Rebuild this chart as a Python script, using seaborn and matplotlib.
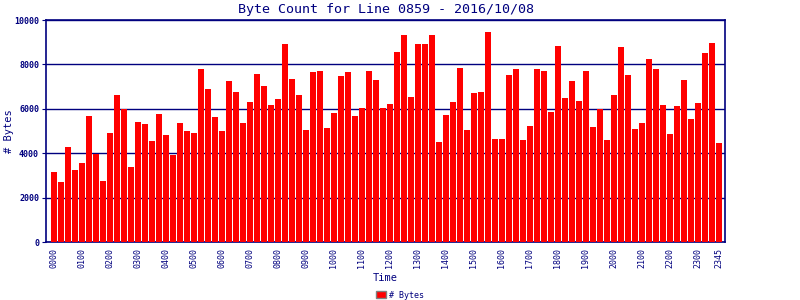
import matplotlib
matplotlib.use("Agg")
import matplotlib.pyplot as plt
import seaborn as sns
import pandas as pd
from matplotlib.patches import Patch

times = [f"{h:02d}{m:02d}" for h in range(24) for m in (0, 15, 30, 45)]
byte_counts = [
    3162, 2712, 4287, 3252, 3567, 5681, 3981, 2757, 4917, 6626, 5996, 3387,
    5411, 5321, 4557, 5771, 4827, 3927, 5366, 5006, 4917, 7795, 6896, 5636,
    5006, 7256, 6761, 5366, 6311, 7571, 7031, 6176, 6446, 8920, 7346, 6626,
    5051, 7661, 7706, 5141, 5816, 7481, 7661, 5681, 6041, 7706, 7301, 6041,
    6221, 8560, 9325, 6536, 8920, 8920, 9325, 4512, 5726, 6311, 7841, 5051,
    6716, 6761, 9460, 4647, 4647, 7526, 7796, 4602, 5231, 7796, 7706, 5861,
    8830, 6491, 7256, 6356, 7706, 5186, 5981, 4602, 6626, 8785, 7526, 5096,
    5366, 8245, 7796, 6176, 4872, 6131, 7301, 5546, 6266, 8515, 8965, 4467,
]
tick_labels = [f"{h:02d}00" for h in range(24)] + ["2345"]
y_ticks = [0, 2000, 4000, 6000, 8000, 10000]

title = "Byte Count for Line 0859 - 2016/10/08"
series_name = "# Bytes"

NAVY = "#00007F"
RED = "#FF0000"

sns.set_style("white")
plt.rcParams["font.family"] = ["DejaVu Sans Mono", "DejaVu Sans"]

df = pd.DataFrame({"Time": times, "Bytes": byte_counts})

fig = plt.figure(figsize=(8, 3), dpi=100)
ax = fig.add_axes([46 / 800, 1 - 242 / 300, (725 - 46) / 800, (242 - 20) / 300])

sns.barplot(data=df, x="Time", y="Bytes", color=RED, saturation=1,
            width=0.86, ax=ax, zorder=3, linewidth=0)

ax.set_xlim(-1.14, 95.86)
ax.set_ylim(0, 10000)
ax.set_yticks(y_ticks)
ax.set_yticklabels([str(v) for v in y_ticks], fontsize=6, fontweight="bold", color=NAVY)

positions = [times.index(t) for t in tick_labels]
ax.set_xticks(positions)
ax.set_xticklabels(tick_labels, rotation=90, fontsize=6, color=NAVY)

ax.yaxis.grid(True, color=NAVY, linewidth=1.0, zorder=1)
ax.set_axisbelow(True)
for s in ax.spines.values():
    s.set_color(NAVY)
    s.set_linewidth(1.2)
    s.set_visible(True)

ax.tick_params(axis="y", length=3, color=NAVY, pad=2, left=True)
ax.tick_params(axis="x", length=0, pad=4, bottom=True)

ax.set_title(title, fontsize=9.6, color=NAVY, pad=5)
ax.set_xlabel("Time", fontsize=7.5, color=NAVY, labelpad=4)
ax.set_ylabel(series_name, fontsize=7.5, color=NAVY)
ax.yaxis.set_label_coords(-0.047, 0.5)

handles = [Patch(facecolor=RED, edgecolor="#808080", linewidth=1, label=series_name)]
fig.legend(handles=handles, loc="center", bbox_to_anchor=(0.5, 1 - 295 / 300),
           frameon=False, fontsize=6, labelcolor=NAVY, handlelength=1.2,
           handleheight=0.9, handletextpad=0.4, borderpad=0)

fig.savefig("out.png", dpi=100)
